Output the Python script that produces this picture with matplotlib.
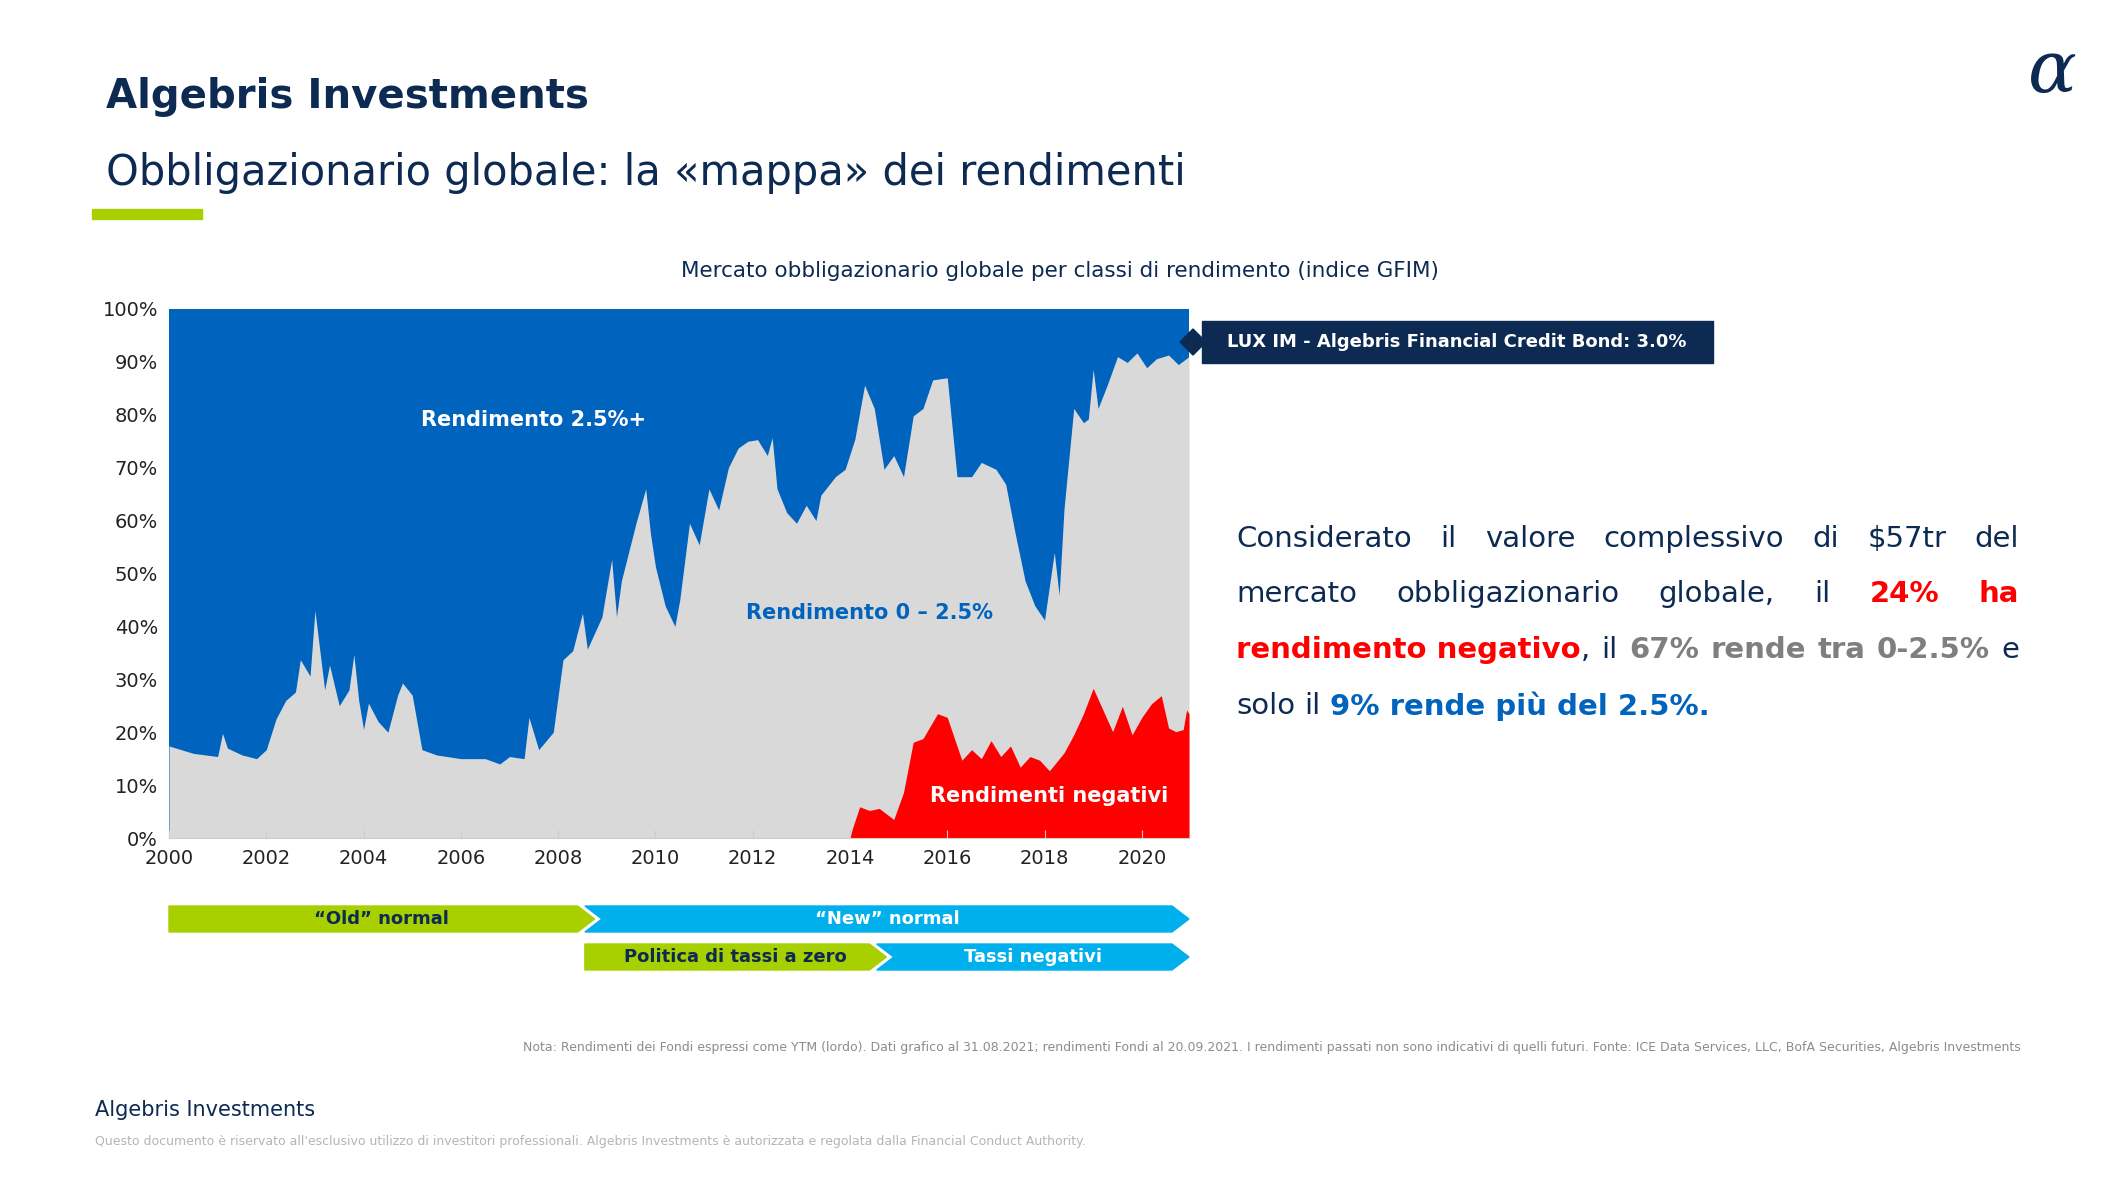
import numpy as np
import matplotlib
matplotlib.use("Agg")
import matplotlib.pyplot as plt
from matplotlib.patches import Polygon, Rectangle
import matplotlib.transforms as mtransforms

W, H = 2112, 1185
NAVY = "#0c2a52"
BLUE = "#0063be"
GREY = "#d9d9d9"
RED = "#ff0000"
LIME = "#a8cf00"
CYAN = "#00b0ec"
FONT = "DejaVu Sans"

# share of the index yielding below 2.5% (negative + 0-2.5%)
gray_x = [2000.0, 2000.5, 2001.0, 2001.1, 2001.2, 2001.5, 2001.8, 2002.0, 2002.2, 2002.4, 2002.6, 2002.7,
          2002.9, 2003.0, 2003.2, 2003.3, 2003.5, 2003.7, 2003.8, 2003.9, 2004.0, 2004.1, 2004.3, 2004.5,
          2004.7, 2004.8, 2005.0, 2005.2, 2005.5, 2006.0, 2006.5, 2006.8, 2007.0, 2007.3, 2007.4, 2007.6,
          2007.9, 2008.1, 2008.3, 2008.5, 2008.6, 2008.9, 2009.1, 2009.2, 2009.3, 2009.6, 2009.8, 2009.9,
          2010.0, 2010.2, 2010.4, 2010.5, 2010.7, 2010.9, 2011.1, 2011.3, 2011.5, 2011.7, 2011.9, 2012.1,
          2012.3, 2012.4, 2012.5, 2012.7, 2012.9, 2013.1, 2013.3, 2013.4, 2013.7, 2013.9, 2014.1, 2014.3,
          2014.5, 2014.7, 2014.9, 2015.1, 2015.3, 2015.5, 2015.7, 2016.0, 2016.2, 2016.5, 2016.7, 2017.0,
          2017.2, 2017.4, 2017.6, 2017.8, 2018.0, 2018.2, 2018.3, 2018.4, 2018.6, 2018.8, 2018.9, 2019.0,
          2019.1, 2019.3, 2019.5, 2019.7, 2019.9, 2020.1, 2020.3, 2020.55, 2020.75, 2020.97]
gray_y = [17.4, 16.0, 15.4, 19.8, 17.0, 15.7, 15.0, 16.7, 22.5, 26.0, 27.6, 33.7,
          30.6, 43.0, 28.0, 32.7, 25.0, 28.0, 34.7, 26.0, 20.5, 25.5, 22.0, 20.0,
          27.0, 29.3, 27.0, 16.7, 15.7, 15.0, 15.0, 14.0, 15.4, 15.0, 22.8, 16.7,
          20.0, 33.7, 35.4, 42.5, 35.7, 41.8, 52.7, 41.8, 48.6, 59.5, 66.0, 57.4,
          51.3, 43.9, 40.0, 45.0, 59.5, 55.4, 66.0, 62.0, 70.0, 73.7, 75.0, 75.3,
          72.3, 75.7, 66.0, 61.5, 59.5, 62.9, 60.0, 64.8, 68.3, 69.7, 75.4, 85.6,
          81.2, 69.7, 72.3, 68.3, 79.8, 81.2, 86.6, 87.0, 68.3, 68.3, 71.0, 69.7,
          66.9, 57.4, 48.6, 43.9, 41.2, 54.0, 45.9, 62.2, 81.2, 78.5, 79.2, 88.6,
          81.2, 85.9, 91.0, 89.9, 91.7, 88.9, 90.6, 91.3, 89.5, 91.0]

# share of the index with negative yield
neg_x = [2000.0, 2014.0, 2014.05, 2014.2, 2014.4, 2014.6, 2014.9, 2015.1, 2015.3, 2015.5, 2015.8, 2016.0,
         2016.3, 2016.5, 2016.7, 2016.9, 2017.1, 2017.3, 2017.5, 2017.7, 2017.9, 2018.1, 2018.4, 2018.6,
         2018.8, 2019.0, 2019.2, 2019.4, 2019.6, 2019.8, 2020.0, 2020.2, 2020.4, 2020.55, 2020.7, 2020.85,
         2020.92, 2020.97]
neg_y = [0.0, 0.0, 1.8, 5.9, 5.2, 5.6, 3.5, 8.6, 18.1, 18.8, 23.5, 22.8,
         14.7, 16.7, 15.0, 18.4, 15.4, 17.4, 13.4, 15.4, 14.7, 12.7, 16.1, 19.5,
         23.5, 28.3, 24.2, 20.1, 24.9, 19.5, 22.8, 25.4, 26.9, 20.8, 20.1, 20.5,
         24.2, 23.5]

y_ticks = [0, 10, 20, 30, 40, 50, 60, 70, 80, 90, 100]
x_ticks = [2000, 2002, 2004, 2006, 2008, 2010, 2012, 2014, 2016, 2018, 2020]

plt.rcParams['font.family'] = [FONT]
fig = plt.figure(figsize=(W / 100, H / 100), dpi=100)


def fx(px):
    return px / W


def fy(py):
    return 1 - py / H


# header
fig.text(fx(106), fy(97), "Algebris Investments", fontsize=29, fontweight="bold", color=NAVY, va="center")
fig.text(fx(106), fy(173), "Obbligazionario globale: la «mappa» dei rendimenti", fontsize=30,
         color=NAVY, va="center")
fig.add_artist(Rectangle((fx(92), fy(219)), fx(110), 10 / H, color=LIME, transform=fig.transFigure))
fig.text(fx(2052), fy(72), "α", fontsize=52, color=NAVY, ha="center", va="center",
         family="DejaVu Serif", style="italic")
fig.text(fx(1060), fy(271), "Mercato obbligazionario globale per classi di rendimento (indice GFIM)",
         fontsize=15.5, color=NAVY, ha="center", va="center")

# chart
ax = fig.add_axes([fx(169), fy(838), fx(1020), 529 / H])
ax.set_facecolor(BLUE)
ax.fill_between(gray_x, 0, gray_y, color=GREY, lw=0)
ax.fill_between(neg_x, 0, neg_y, color=RED, lw=0)
ax.set_xlim(2000, 2020.97)
ax.set_ylim(0, 100)
ax.set_yticks(y_ticks, [f"{v}%" for v in y_ticks])
ax.set_xticks(x_ticks, [str(v) for v in x_ticks])
ax.tick_params(labelsize=14, colors="#222222", length=0, pad=8)
ax.tick_params(axis="x", length=6, color="#cccccc", direction="in")
for s in ["top", "right", "left"]:
    ax.spines[s].set_visible(False)
ax.spines["bottom"].set_color("#cccccc")

ax.text(2007.5, 79, "Rendimento 2.5%+", color="white", fontsize=15, fontweight="bold", ha="center", va="center")
ax.text(2014.4, 42.5, "Rendimento 0 – 2.5%", color=BLUE, fontsize=15, fontweight="bold", ha="center", va="center")
ax.text(2018.1, 8, "Rendimenti negativi", color="white", fontsize=15, fontweight="bold", ha="center", va="center")

# fund callout
fig.add_artist(Rectangle((fx(1202), fy(363)), fx(511), 42 / H, color=NAVY, transform=fig.transFigure))
fig.add_artist(Polygon([(fx(1180), fy(342)), (fx(1193), fy(329)), (fx(1206), fy(342)), (fx(1193), fy(355))],
                       closed=True, color=NAVY, transform=fig.transFigure))
fig.text(fx(1457), fy(342), "LUX IM - Algebris Financial Credit Bond: 3.0%", color="white",
         fontsize=13, fontweight="bold", va="center", ha="center")

# regime arrows under the chart
trans = mtransforms.blended_transform_factory(ax.transData, fig.transFigure)


def chevron(x0, x1, ycen, color, label, notch):
    h = 13 / H
    tip = 0.35
    pts = [(x0, ycen + h), (x1 - tip, ycen + h), (x1, ycen), (x1 - tip, ycen - h), (x0, ycen - h)]
    if notch:
        pts.append((x0 + tip, ycen))
    fig.add_artist(Polygon(pts, closed=True, color=color, transform=trans, clip_on=False))
    fig.text((x0 + x1) / 2, ycen, label, transform=trans, color=NAVY if color == LIME else "white",
             fontsize=13, fontweight="bold", ha="center", va="center")


chevron(2000.0, 2008.75, fy(919), LIME, "“Old” normal", False)
chevron(2008.55, 2020.97, fy(919), CYAN, "“New” normal", True)
chevron(2008.55, 2014.75, fy(957), LIME, "Politica di tassi a zero", False)
chevron(2014.55, 2020.97, fy(957), CYAN, "Tassi negativi", True)

# justified paragraph on the right
GREYTXT = "#7f7f7f"
lines = [
    [("Considerato", NAVY, "normal"), ("il", NAVY, "normal"), ("valore", NAVY, "normal"),
     ("complessivo", NAVY, "normal"), ("di", NAVY, "normal"), ("$57tr", NAVY, "normal"), ("del", NAVY, "normal")],
    [("mercato", NAVY, "normal"), ("obbligazionario", NAVY, "normal"), ("globale,", NAVY, "normal"),
     ("il", NAVY, "normal"), ("24%", RED, "bold"), ("ha", RED, "bold")],
    [("rendimento negativo", RED, "bold"), (",", NAVY, "normal"), ("il", NAVY, "normal"), ("67%", GREYTXT, "bold"),
     ("rende", GREYTXT, "bold"), ("tra", GREYTXT, "bold"), ("0-2.5%", GREYTXT, "bold"), ("e", NAVY, "normal")],
    [("solo", NAVY, "normal"), ("il", NAVY, "normal"), ("9% rende più del 2.5%.", BLUE, "bold")],
]
line_y = [539, 594, 650, 706]
x_left, x_right = 1236, 2019
PSIZE = 21
fig.canvas.draw()
rend = fig.canvas.get_renderer()
probe1 = fig.text(0, 0, "a a", fontsize=PSIZE)
probe2 = fig.text(0, 0, "aa", fontsize=PSIZE)
space = probe1.get_window_extent(rend).width - probe2.get_window_extent(rend).width
probe1.remove()
probe2.remove()
for i, (words, ly) in enumerate(zip(lines, line_y)):
    arts = [fig.text(0, fy(ly), w, color=c, fontweight=wt, fontsize=PSIZE, va="center") for w, c, wt in words]
    widths = [a.get_window_extent(rend).width for a in arts]
    if i < len(lines) - 1:
        gap = (x_right - x_left - sum(widths)) / (len(arts) - 2 if words[1][0] == "," else len(arts) - 1)
    else:
        gap = space
    x = x_left
    for j, (a, w) in enumerate(zip(arts, widths)):
        if words[j][0] == ",":
            x -= gap
        a.set_x(fx(x))
        x += w + gap

# footer
fig.text(fx(2021), fy(1047), "Nota: Rendimenti dei Fondi espressi come YTM (lordo). Dati grafico al 31.08.2021; "
         "rendimenti Fondi al 20.09.2021. I rendimenti passati non sono indicativi di quelli futuri. "
         "Fonte: ICE Data Services, LLC, BofA Securities, Algebris Investments",
         fontsize=9, color="#8c8c8c", ha="right", va="center")
fig.text(fx(95), fy(1110), "Algebris Investments", fontsize=15, color=NAVY, va="center")
fig.text(fx(95), fy(1141), "Questo documento è riservato all'esclusivo utilizzo di investitori professionali. "
         "Algebris Investments è autorizzata e regolata dalla Financial Conduct Authority.",
         fontsize=9, color="#b5b5b5", va="center")

fig.savefig("out.png", dpi=100)
